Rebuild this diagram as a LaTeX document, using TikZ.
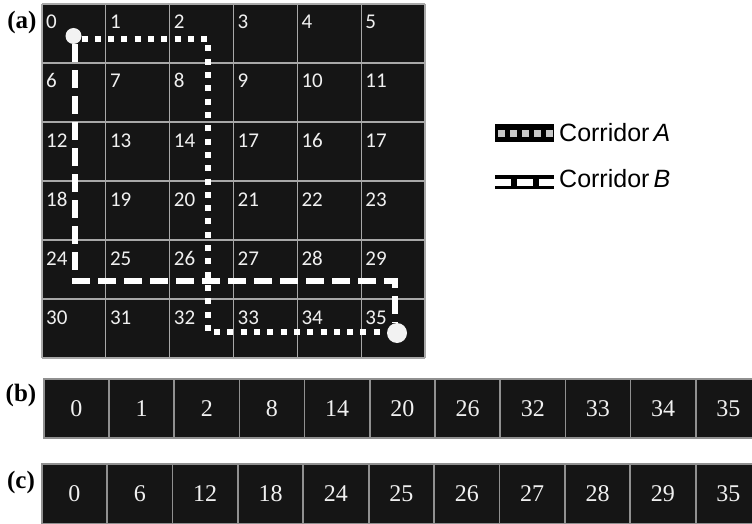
\documentclass[tikz,border=0pt]{standalone}
\usepackage{fontspec}
\setmainfont{Liberation Serif}
\newfontfamily\gridfont{Carlito}
\newfontfamily\legfont{Liberation Sans}
\definecolor{cellbg}{HTML}{151515}
\definecolor{gridln}{HTML}{A8A8A8}
\definecolor{numcol}{HTML}{F0F0F0}
\definecolor{rowln}{HTML}{909090}
\definecolor{dotgrey}{HTML}{C8C8C8}
\tikzset{
  gridline/.style={draw=gridln, line width=1.3pt},
  gridnum/.style={anchor=base west, inner sep=0pt, text=numcol, font=\gridfont\fontsize{21}{23}\selectfont},
  rowcell/.style={draw=rowln, line width=1.5pt, fill=cellbg, anchor=north west, inner sep=0pt,
     minimum width=65.2pt, text=numcol, font=\fontsize{24}{26}\selectfont},
  panel/.style={inner sep=0pt, font=\bfseries\fontsize{25}{27}\selectfont},
  corrA/.style={draw=white, line width=5.5pt, dash pattern=on 6pt off 7.3pt},
  corrB/.style={draw=white, line width=6pt, dash pattern=on 18pt off 8pt},
  endpt/.style={circle, fill=white!95!black, inner sep=0pt},
  legtext/.style={anchor=base west, inner sep=0pt, font=\legfont\fontsize{25}{27}\selectfont},
}
\begin{document}
\begin{tikzpicture}[x=1pt,y=-1pt]
\clip (0,0) rectangle (752,524);
\fill[white] (0,0) rectangle (752,524);
% ---- panel (a): grid
\fill[cellbg] (42,4) rectangle (425,358);
\foreach \c in {0,...,6} \draw[gridline] ({42+\c*63.83},4) -- ({42+\c*63.83},358);
\foreach \r in {0,...,6} \draw[gridline] (42,{4+\r*59}) -- (425,{4+\r*59});
\foreach \lab [count=\i from 0] in {0,1,2,3,4,5,6,7,8,9,10,11,12,13,14,17,16,17,18,19,20,21,22,23,24,25,26,27,28,29,30,31,32,33,34,35}{
  \pgfmathtruncatemacro\rr{floor(\i/6)}
  \pgfmathtruncatemacro\cc{mod(\i,6)}
  \node[gridnum] (g\i) at ({42+\cc*63.83+4},{4+\rr*59+25}) {\lab};
}
% corridors
\node[endpt, minimum size=16pt] (s) at (73.5,36) {};
\node[endpt, minimum size=20pt] (e) at (397,333) {};
\coordinate (a1) at (208,39);
\coordinate (a2) at (208,332);
\coordinate (b1) at (75,281);
\coordinate (b2) at (395,281);
\draw[corrA] (s.center |- a1) ++(8,0) -- (a1) -- (a2) -- (e.west |- a2);
\draw[corrB] (s.south -| b1) -- (b1) -- (b2) -- (e.north -| b2);
\node[panel] (la) at (22,22) {(a)};
% legend
\node[fill=black, minimum width=59pt, minimum height=18pt, inner sep=0pt, anchor=north west] (iA) at (495,124) {};
\draw[draw=dotgrey, line width=7pt, dash pattern=on 7pt off 5pt] ([xshift=3pt]iA.west) -- (iA.east);
\node[fill=black, minimum width=59pt, minimum height=14pt, inner sep=0pt, anchor=north west] (iB) at (495,175) {};
\draw[draw=white, line width=7pt, dash pattern=on 16pt off 6pt] (iB.west) -- (iB.east);
\node[legtext] (tA) at (559,142) {Corridor\,\textit{A}};
\node[legtext] (tB) at (559,187) {Corridor\,\textit{B}};
% ---- panel (b)
\foreach \lab [count=\i from 0] in {0,1,2,8,14,20,26,32,33,34,35}{
  \node[rowcell, minimum height=59pt] (b\i) at ({43+\i*65.2},378) {\lab};
}
\node[panel] (lb) at (21,395) {(b)};
% ---- panel (c)
\foreach \lab [count=\i from 0] in {0,6,12,18,24,25,26,27,28,29,35}{
  \node[rowcell, minimum height=60pt] (c\i) at ({41+\i*65.4},463) {\lab};
}
\node[panel] (lc) at (21,482) {(c)};
\end{tikzpicture}
\end{document}
